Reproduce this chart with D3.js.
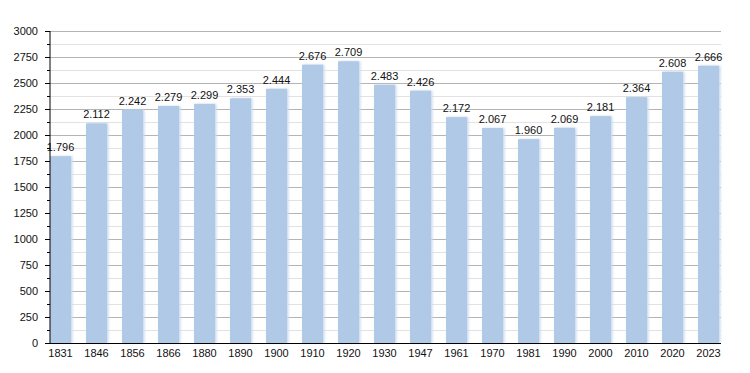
<!DOCTYPE html>
<html>
<head>
    <script src="https://d3js.org/d3.v7.min.js"></script>
</head>
<style>
body { margin: 0; background: #fff; }
text { font-family: "Liberation Sans", Arial, sans-serif; }
</style>
<body>
<div id="chart"></div>
<script>
    // Population by census year
    var years = ["1831", "1846", "1856", "1866", "1880", "1890", "1900", "1910", "1920", "1930",
                 "1947", "1961", "1970", "1981", "1990", "2000", "2010", "2020", "2023"];
    var population = [1796, 2112, 2242, 2279, 2299, 2353, 2444, 2676, 2709, 2483,
                      2426, 2172, 2067, 1960, 2069, 2181, 2364, 2608, 2666];
    var yTicks = [0, 250, 500, 750, 1000, 1250, 1500, 1750, 2000, 2250, 2500, 2750, 3000];

    var width = 750, height = 373;
    // note: "top" is taken by window.top, so prefix everything
    var plotLeft = 50, plotTop = 31, plotBottom = 343, plotRight = 721;

    var svg = d3.select("#chart").append("svg")
        .attr("width", width)
        .attr("height", height);

    var defs = svg.append("defs");
    defs.append("filter").attr("id", "soft")
        .attr("x", "-20%").attr("width", "140%")
        .append("feGaussianBlur").attr("stdDeviation", 0.8);

    var x = d3.scaleBand()
        .domain(years)
        .range([plotLeft, 719])
        .paddingInner(15 / 36)
        .paddingOuter(0);

    var y = d3.scaleLinear()
        .domain([0, 3000])
        .range([plotBottom, plotTop]);

    // gridlines: minor (light) and major
    var minor = d3.range(125, 3000, 250);
    svg.append("g").selectAll("line")
        .data(minor).enter().append("line")
        .attr("x1", plotLeft).attr("x2", plotRight)
        .attr("y1", d => y(d) + 0.5).attr("y2", d => y(d) + 0.5)
        .style("stroke", "#e2e2e2");
    svg.append("g").selectAll("line")
        .data(yTicks.slice(1)).enter().append("line")
        .attr("x1", plotLeft).attr("x2", plotRight)
        .attr("y1", d => y(d) + 0.5).attr("y2", d => y(d) + 0.5)
        .style("stroke", "#b4b4b4");

    // bars with a blurred shadow to the right
    var bars = svg.append("g");
    bars.selectAll("rect.shadow")
        .data(population).enter().append("rect")
        .attr("class", "shadow")
        .attr("x", (d, i) => x(years[i]) + 1.5)
        .attr("y", d => y(d))
        .attr("width", x.bandwidth())
        .attr("height", d => plotBottom - y(d))
        .style("fill", "#c9d9ec")
        .attr("filter", "url(#soft)");
    bars.selectAll("rect.bar")
        .data(population).enter().append("rect")
        .attr("class", "bar")
        .attr("x", (d, i) => x(years[i]))
        .attr("y", d => y(d))
        .attr("width", x.bandwidth())
        .attr("height", d => plotBottom - y(d))
        .style("fill", "#b0c9e6");

    // value labels
    var fmt = d3.formatLocale({decimal: ",", thousands: ".", grouping: [3], currency: ["", ""]}).format(",");
    svg.append("g").selectAll("text")
        .data(population).enter().append("text")
        .attr("x", (d, i) => x(years[i]) + x.bandwidth() / 2)
        .attr("y", d => y(d) - 5)
        .attr("text-anchor", "middle")
        .attr("font-size", "11px")
        .attr("fill", "#111")
        .text(d => fmt(d));

    // y axis
    var yAxis = svg.append("g")
        .attr("transform", "translate(" + plotLeft + ",0)")
        .call(d3.axisLeft(y).tickValues(yTicks).tickSize(5).tickPadding(7).tickFormat(d3.format("d")));
    yAxis.select(".domain").attr("d", "M0," + plotTop + "V" + (plotBottom + 0.5)).style("stroke", "#000");
    yAxis.selectAll(".tick text").attr("font-size", "11px").attr("fill", "#111")
        .style("font-family", "'Liberation Sans', Arial, sans-serif");
    svg.append("g").selectAll("line")
        .data(minor).enter().append("line")
        .attr("x1", plotLeft - 3).attr("x2", plotLeft)
        .attr("y1", d => y(d) + 0.5).attr("y2", d => y(d) + 0.5)
        .style("stroke", "#000");

    // x axis
    var xAxis = svg.append("g")
        .attr("transform", "translate(0," + plotBottom + ")")
        .call(d3.axisBottom(x).tickSize(0).tickPadding(6));
    xAxis.select(".domain").attr("d", "M" + plotLeft + ",0.5H" + plotRight).style("stroke", "#000");
    xAxis.selectAll(".tick text").attr("font-size", "11px").attr("fill", "#111")
        .style("font-family", "'Liberation Sans', Arial, sans-serif");
</script>
</body>
</html>
